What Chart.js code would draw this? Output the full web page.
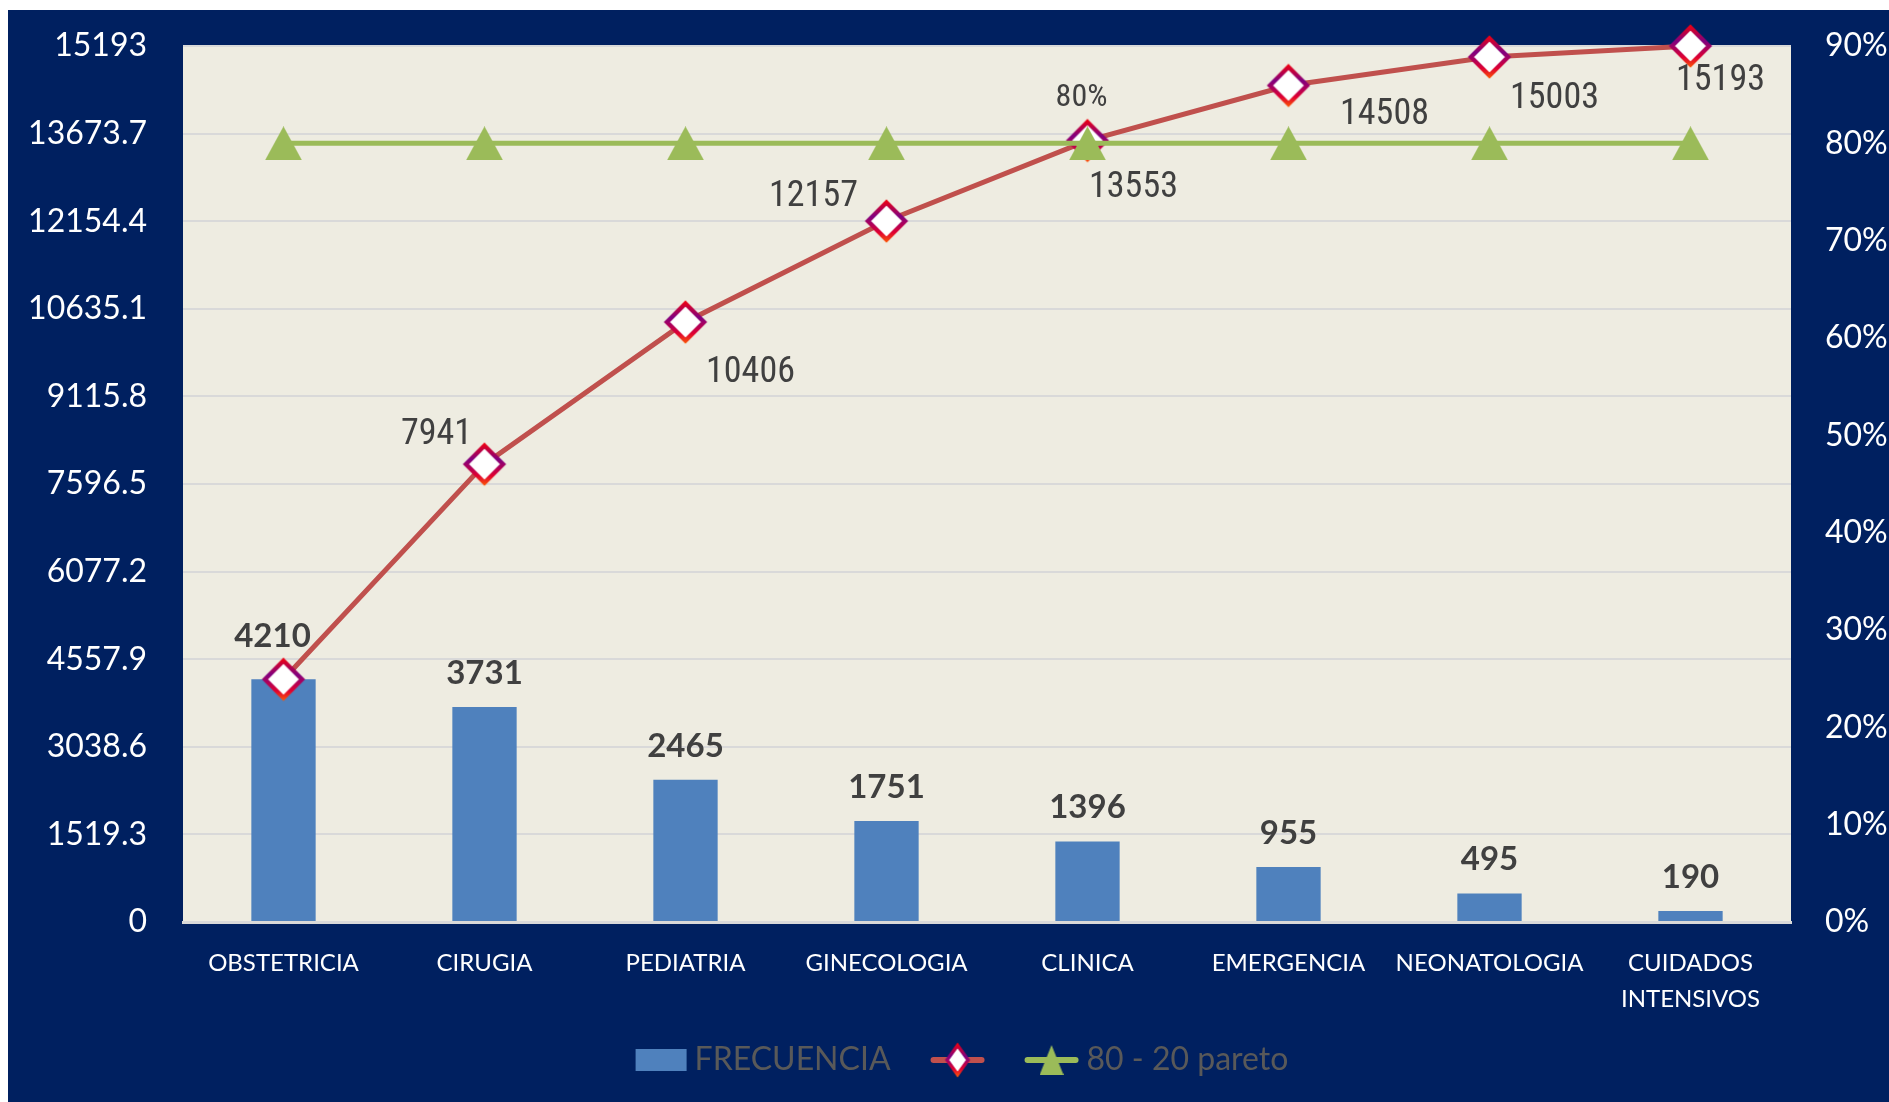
<!DOCTYPE html>
<html>
<head>
<meta charset="utf-8">
<script src="https://cdn.jsdelivr.net/npm/chart.js@4.4.0/dist/chart.umd.min.js"></script>
<style>
  html, body { margin: 0; padding: 0; background: #fff; overflow: hidden; }
  #frame { position: absolute; left: 8px; top: 10px; right: 0; bottom: 0; background: #002060; }
  #wrap { position: absolute; left: 0; top: 0; width: 1889px; height: 1102px; }
</style>
</head>
<body>
<div id="frame"></div>
<div id="wrap"><canvas id="pareto" width="1889" height="1102"></canvas></div>
<script>
// --- Data ---
const categories = ['OBSTETRICIA', 'CIRUGIA', 'PEDIATRIA', 'GINECOLOGIA', 'CLINICA', 'EMERGENCIA', 'NEONATOLOGIA', ['CUIDADOS', 'INTENSIVOS']];
const frequency = [4210, 3731, 2465, 1751, 1396, 955, 495, 190];
const cumulative = [4210, 7941, 10406, 12157, 13553, 14508, 15003, 15193];
const paretoLine = [0.8, 0.8, 0.8, 0.8, 0.8, 0.8, 0.8, 0.8];
const leftTicks = [0, 1519.3, 3038.6, 4557.9, 6077.2, 7596.5, 9115.8, 10635.1, 12154.4, 13673.7, 15193];
const rightTicks = [0, 0.1, 0.2, 0.3, 0.4, 0.5, 0.6, 0.7, 0.8, 0.9];

// --- Colours / fonts ---
const PLOT_BG = '#EEECE1';
const BAR = '#4F81BD';
const CUM = '#C0504D';
const PARETO = '#9BBB59';
const LABEL_GREY = '#404040';
const NARROW = '"Liberation Sans Narrow", "Arial Narrow", "Roboto Condensed", sans-serif';

// --- Marker images ---
function diamond(w, h, border) {
    const c = document.createElement('canvas');
    c.width = w; c.height = h;
    const g = c.getContext('2d');
    const rx = w / 2 - border, ry = h / 2 - border;
    const grad = g.createLinearGradient(0, 0, 0, h);
    grad.addColorStop(0, '#FF0000');
    grad.addColorStop(0.4, '#800080');
    grad.addColorStop(0.75, '#E00030');
    grad.addColorStop(1, '#FF6600');
    g.beginPath();
    g.moveTo(w / 2, h / 2 - ry);
    g.lineTo(w / 2 + rx, h / 2);
    g.lineTo(w / 2, h / 2 + ry);
    g.lineTo(w / 2 - rx, h / 2);
    g.closePath();
    g.fillStyle = '#fff';
    g.fill();
    g.lineWidth = border;
    g.strokeStyle = grad;
    g.stroke();
    return c;
}

function triangle(w, h) {
    const c = document.createElement('canvas');
    c.width = w; c.height = h;
    const g = c.getContext('2d');
    g.beginPath();
    g.moveTo(w / 2, 0);
    g.lineTo(w, h);
    g.lineTo(0, h);
    g.closePath();
    g.fillStyle = PARETO;
    g.fill();
    return c;
}

const diamondMark = diamond(46, 46, 4.5);
const triangleMark = triangle(37, 34);
const diamondLegend = diamond(28, 36, 3.5);
const triangleLegend = triangle(24, 30);

// --- Plugins ---
const plotBackground = {
    id: 'plotBackground',
    beforeDraw(chart) {
        const { ctx, chartArea: a } = chart;
        ctx.save();
        ctx.fillStyle = PLOT_BG;
        ctx.fillRect(a.left, a.top, a.right - a.left, a.bottom - a.top);
        ctx.restore();
    }
};

// label offsets (px) from each mark, null = no label
const labelSpecs = [
    {
        font: 'bold 33px Lato', color: LABEL_GREY, fmt: v => String(v),
        offsets: [[-11, -43], [0, -34], [0, -34], [0, -34], [0, -34], [0, -34], [0, -34], [0, -34]]
    },
    {
        font: '36px ' + NARROW, color: LABEL_GREY, fmt: v => String(v),
        offsets: [null, [-48, -29], [65, 51], [-73, -24], [46, 47], [96, 30], [65, 42], [30, 35]]
    },
    {
        font: '32px ' + NARROW, color: LABEL_GREY, fmt: v => Math.round(v * 100) + '%',
        offsets: [null, null, null, null, [-6, -45], null, null, null]
    }
];

const valueLabels = {
    id: 'valueLabels',
    afterDatasetsDraw(chart) {
        const ctx = chart.ctx;
        ctx.save();
        ctx.textAlign = 'center';
        ctx.textBaseline = 'middle';
        chart.data.datasets.forEach((ds, di) => {
            const spec = labelSpecs[di];
            const meta = chart.getDatasetMeta(di);
            ctx.font = spec.font;
            ctx.fillStyle = spec.color;
            meta.data.forEach((el, i) => {
                const off = spec.offsets[i];
                if (!off) return;
                ctx.fillText(spec.fmt(ds.data[i]), el.x + off[0], el.y + off[1]);
            });
        });
        ctx.restore();
    }
};

const legendBox = { centerX: 962, y: 1060, swatchW: 51, swatchH: 22, lineW: 54, textGap: 8, itemGap: 40 };

const customLegend = {
    id: 'customLegend',
    afterDraw(chart) {
        const ctx = chart.ctx;
        const L = legendBox;
        ctx.save();
        ctx.font = '32px Lato';
        ctx.textBaseline = 'middle';
        const items = chart.data.datasets.map(ds => {
            const sample = ds.type === 'line' ? L.lineW : L.swatchW;
            const tw = ds.label ? ctx.measureText(ds.label).width + L.textGap : 0;
            return { ds, sample, tw };
        });
        const total = items.reduce((s, it) => s + it.sample + it.tw, 0) + L.itemGap * (items.length - 1);
        let x = L.centerX - total / 2;
        items.forEach(({ ds, sample, tw }) => {
            if (ds.type === 'line') {
                ctx.strokeStyle = ds.borderColor;
                ctx.lineWidth = 6;
                ctx.lineCap = 'round';
                ctx.beginPath();
                ctx.moveTo(x + 3, L.y);
                ctx.lineTo(x + sample - 3, L.y);
                ctx.stroke();
                const img = ds.legendMark;
                ctx.drawImage(img, x + sample / 2 - img.width / 2, L.y - img.height / 2);
            } else {
                ctx.fillStyle = ds.backgroundColor;
                ctx.fillRect(x, L.y - L.swatchH / 2, sample, L.swatchH);
            }
            x += sample;
            if (ds.label) {
                ctx.fillStyle = '#595959';
                ctx.fillText(ds.label, x + L.textGap, L.y);
            }
            x += tw + L.itemGap;
        });
        ctx.restore();
    }
};

// tick padding would otherwise be added above/below the plot
const noScalePadding = s => { s.paddingTop = 0; s.paddingBottom = 0; };

// --- Chart ---
const ctx = document.getElementById('pareto').getContext('2d');
new Chart(ctx, {
    type: 'bar',
    data: {
        labels: categories,
        datasets: [
            {
                type: 'bar', label: 'FRECUENCIA', data: frequency, yAxisID: 'y',
                backgroundColor: BAR, categoryPercentage: 1, barPercentage: 0.32, order: 2
            },
            {
                type: 'line', label: '', data: cumulative, yAxisID: 'y',
                borderColor: CUM, borderWidth: 5, tension: 0, clip: false,
                pointStyle: diamondMark, pointRadius: 21, legendMark: diamondLegend, order: 1
            },
            {
                type: 'line', label: '80 - 20 pareto', data: paretoLine, yAxisID: 'y1',
                borderColor: PARETO, borderWidth: 5, tension: 0, clip: false,
                pointStyle: triangleMark, pointRadius: 18, legendMark: triangleLegend, order: 0
            }
        ]
    },
    options: {
        responsive: false,
        animation: false,
        layout: { autoPadding: false, padding: { top: 46, left: 0, right: 0, bottom: 0 } },
        plugins: { legend: { display: false }, tooltip: { enabled: false } },
        scales: {
            x: {
                grid: { display: false },
                border: { display: true, color: '#D9D9D9', width: 3 },
                ticks: {
                    color: '#fff', padding: 15, maxRotation: 0, autoSkip: false,
                    font: { family: 'Lato', size: 24, lineHeight: 1.5 }
                },
                afterFit: s => { s.height = 180; }
            },
            y: {
                position: 'left', min: 0, max: 15193,
                grid: { color: '#D9D9D9', lineWidth: 2, drawTicks: false },
                border: { display: false },
                afterBuildTicks: s => { s.ticks = leftTicks.map(v => ({ value: v })); },
                ticks: {
                    color: '#fff', padding: 36,
                    font: { family: 'Lato', size: 32 },
                    callback: v => String(Math.round(v * 10) / 10)
                },
                afterFit: s => { s.width = 183; noScalePadding(s); }
            },
            y1: {
                position: 'right', min: 0, max: 0.9,
                grid: { display: false },
                border: { display: false },
                afterBuildTicks: s => { s.ticks = rightTicks.map(v => ({ value: v })); },
                ticks: {
                    color: '#fff', padding: 26,
                    font: { family: 'Lato', size: 32 },
                    callback: v => Math.round(v * 100) + '%'
                },
                afterFit: s => { s.width = 98; noScalePadding(s); }
            }
        }
    },
    plugins: [plotBackground, valueLabels, customLegend]
});
</script>
</body>
</html>
